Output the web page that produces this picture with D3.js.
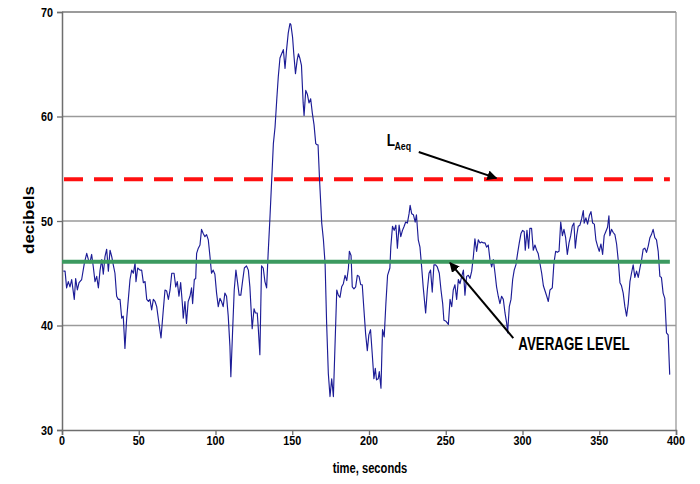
<!DOCTYPE html>
<html>
<head>
<meta charset="utf-8">
<script src="https://cdn.jsdelivr.net/npm/d3@7/dist/d3.min.js"></script>
<style>
  html, body { margin: 0; padding: 0; background: #fff; }
  svg { display: block; }
  text { font-family: "Liberation Sans", Arial, sans-serif; font-weight: bold; fill: #000; }
</style>
</head>
<body>
<svg id="chart" width="700" height="484"></svg>
<script>
// ---- data ----
const xTicks = [0, 50, 100, 150, 200, 250, 300, 350, 400];
const yTicks = [30, 40, 50, 60, 70];
const laeqLevel = 54;
const averageLevel = 46.1;
const refLineExtent = [0, 396];

const times = [
0.9,2.0,3.0,4.1,5.2,6.3,8.0,8.9,10.0,11.1,12.8,14.6,16.1,17.2,18.2,19.3,20.4,21.5,22.6,23.7,24.8,25.9,26.9,28.0,29.1,30.2,31.3,32.4,33.4,34.5,35.6,36.7,37.8,38.9,39.9,41.0,42.1,43.2,44.3,45.4,46.5,47.6,48.2,49.3,50.8,51.9,53.0,54.1,55.2,56.3,57.3,58.4,59.5,60.6,61.7,62.8,64.5,66.0,67.1,68.2,69.3,70.4,71.5,73.0,74.1,75.1,76.2,77.3,78.4,79.0,80.1,
81.1,82.2,83.4,84.4,85.1,86.2,87.1,87.7,88.8,89.9,90.9,92.0,93.1,94.2,95.3,96.4,97.4,98.5,99.6,100.7,101.8,102.9,103.9,105.0,106.1,107.2,108.3,109.4,110.0,111.1,112.2,113.3,114.3,115.4,116.5,117.6,118.8,120.2,121.4,122.4,123.1,123.9,125.1,126.0,127.2,127.8,128.9,130.0,131.1,132.2,133.3,134.3,135.4,
137.7,138.8,139.9,140.9,142.0,143.1,144.2,145.3,146.3,147.4,148.5,149.1,150.2,151.0,152.1,153.2,154.0,154.9,156.0,157.1,157.7,158.8,159.9,160.9,162.0,163.1,164.2,165.3,166.1,166.8,167.8,
169.2,170.3,171.4,172.4,173.5,174.6,175.7,176.8,177.9,179.0,180.0,181.1,182.2,183.3,184.4,185.5,186.6,187.2,188.3,189.1,190.2,191.3,192.4,193.5,194.6,195.6,196.7,197.8,198.9,199.9,201.0,202.1,203.2,204.1,204.9,206.0,206.7,207.8,208.8,209.9,211.0,212.1,213.6,214.2,215.3,216.4,217.5,218.5,219.6,220.7,221.8,222.9,223.9,225.0,226.1,226.8,227.8,228.9,230.1,230.9,232.1,233.2,
234.3,235.3,236.9,238.0,239.1,240.1,241.2,242.3,243.4,244.5,245.8,246.9,248.0,248.8,250.2,251.7,252.8,253.9,254.9,256.0,257.1,258.2,259.3,260.4,261.5,262.5,263.6,264.7,265.8,266.9,268.0,269.0,270.1,271.2,272.3,273.4,274.5,275.6,276.6,277.7,278.8,279.9,281.0,282.1,283.1,284.2,285.3,286.4,287.5,288.6,289.7,290.3,291.4,292.5,293.6,294.6,295.7,296.8,297.9,299.0,300.0,301.1,301.8,302.9,304.0,304.8,305.9,307.0,308.1,309.2,310.2,
312.5,313.6,314.7,315.8,316.8,317.9,319.4,320.5,321.6,322.7,323.8,324.9,326.0,327.0,328.1,329.2,330.3,331.4,332.4,333.5,334.4,335.3,336.3,337.4,338.5,339.6,340.2,341.3,342.4,343.5,344.6,345.7,346.8,347.8,348.9,350.0,351.1,352.2,353.2,354.3,355.4,356.3,356.9,358.0,359.1,360.2,361.3,362.4,363.5,364.5,365.6,366.7,367.8,368.9,370.0,371.0,372.1,373.2,374.3,375.4,376.5,377.5,378.6,379.7,380.8,381.9,383.0,384.0,385.1,386.2,387.3,388.4,389.5,390.5,391.6,392.7,393.8,394.9,395.9
];
const levels = [
45.2,45.2,43.6,44.2,43.7,44.4,42.5,44.5,43.4,44.1,44.4,46.0,46.9,46.3,46.0,46.8,45.6,44.2,44.7,43.6,45.3,46.3,44.9,46.6,47.3,45.2,47.2,46.6,45.8,45.0,42.8,42.5,42.5,40.7,40.9,37.8,40.6,42.5,44.4,45.3,45.0,46.0,44.2,45.5,45.3,45.3,44.1,44.2,42.5,42.3,42.5,41.5,42.5,42.3,41.8,40.6,38.8,41.5,43.4,43.3,42.5,43.4,45.0,45.0,43.7,44.2,42.8,44.1,42.1,40.7,42.3,
40.2,42.3,42.8,43.6,42.1,44.4,44.5,46.9,47.4,47.7,49.2,48.8,48.5,48.7,48.2,46.6,45.0,45.3,44.9,43.1,41.8,42.6,42.3,41.8,43.1,42.8,40.9,38.0,35.1,39.3,43.4,45.3,44.2,42.9,42.9,44.2,45.5,45.7,45.3,43.7,41.8,39.7,41.6,41.2,41.2,39.9,37.2,45.7,45.5,44.2,43.6,46.9,50.1,
57.4,59.0,61.6,63.8,65.6,66.0,66.4,64.6,66.4,68.0,68.9,68.8,67.6,66.0,64.1,65.4,66.0,65.6,64.9,61.3,60.1,62.5,62.1,61.3,61.7,60.3,59.2,57.4,57.3,57.3,53.9,
49.8,48.2,45.9,40.2,35.4,33.2,34.9,33.2,38.3,43.4,42.9,42.7,43.7,44.0,44.8,44.3,45.5,47.1,46.7,43.7,43.5,43.7,44.8,44.7,43.9,43.9,41.5,39.2,37.6,39.1,39.6,37.3,34.9,35.9,34.8,34.9,35.6,34.0,39.6,38.9,42.1,44.8,45.5,47.5,49.5,49.1,49.6,47.4,49.6,48.5,49.1,49.5,49.9,49.8,50.7,51.5,50.7,50.6,49.9,50.6,48.2,47.5,
45.6,43.7,41.2,43.4,45.0,45.3,43.2,45.8,45.8,45.6,45.0,43.4,42.1,40.5,40.4,40.1,42.5,41.8,43.4,43.9,42.5,44.4,44.0,44.7,45.3,42.9,44.7,44.8,44.5,45.2,46.6,48.3,47.1,48.2,47.9,48.0,47.9,47.9,47.5,47.7,46.3,45.6,46.3,45.0,43.7,42.8,42.1,42.8,42.5,41.2,40.2,39.3,41.8,42.5,44.4,45.3,45.8,46.9,47.9,48.8,49.1,49.0,47.2,49.1,47.4,49.3,49.3,47.2,47.7,47.2,46.9,
45.0,43.8,43.3,42.8,42.3,43.4,43.6,46.0,47.1,47.0,47.1,49.9,48.6,49.2,48.4,46.8,47.9,48.6,49.5,49.8,47.4,48.6,49.5,49.6,50.2,51.0,49.8,50.3,49.7,50.5,50.9,49.8,49.7,48.2,47.6,47.1,47.8,46.8,48.6,49.0,49.4,50.5,48.6,49.2,48.9,48.7,47.8,46.2,44.1,43.8,43.1,41.8,40.9,42.1,44.2,45.0,45.8,44.6,45.2,44.6,45.5,46.2,47.3,47.4,47.0,47.6,48.4,48.7,49.2,48.4,48.2,47.1,44.7,44.6,43.1,42.6,39.3,39.1,35.3
];

// annotation anchor points in data units
const laeqLabel = { text: "L", sub: "Aeq", t: 211.5, v: 57.2 };
const laeqArrow = { from: [232.4, 56.6], to: [283.0, 54.1] };
const avgLabel = { text: "AVERAGE LEVEL", t: 297.3, v: 37.65 };
const avgArrow = { from: [294.0, 38.8], to: [252.8, 46.0] };

// ---- drawing ----
const svg = d3.select("#chart");
const plotLeft = 62, plotRight = 676, plotTop = 12, plotBottom = 430;
const x = d3.scaleLinear().domain([0, 400]).range([plotLeft, plotRight]);
const y = d3.scaleLinear().domain([30, 70]).range([plotBottom, plotTop]);
const SX = 0.8; // horizontal squeeze of the original artwork

function squeezedText(g, tx, ty, str, size, anchor, sx) {
  return g.append("text")
    .attr("transform", `translate(${tx},${ty}) scale(${sx},1)`)
    .attr("text-anchor", anchor)
    .style("font-size", size + "px")
    .text(str);
}

const defs = svg.append("defs");
defs.append("marker").attr("id", "ah").attr("viewBox", "0 0 10 10")
  .attr("refX", 9).attr("refY", 5).attr("markerWidth", 5).attr("markerHeight", 5)
  .attr("markerUnits", "strokeWidth").attr("orient", "auto")
  .append("path").attr("d", "M0,0 L10,5 L0,10 z").attr("fill", "#000");

// gridlines
svg.append("g").selectAll("line").data(yTicks.filter(d => d > 30 && d < 70)).join("line")
  .attr("x1", plotLeft).attr("x2", plotRight).attr("y1", d => y(d)).attr("y2", d => y(d))
  .attr("stroke", "#9a9a9a").attr("stroke-width", 1.3);

// frame: top and right
svg.append("line").attr("x1", plotLeft).attr("x2", plotRight).attr("y1", plotTop).attr("y2", plotTop)
  .attr("stroke", "#7a7a7a").attr("stroke-width", 1.4);
svg.append("line").attr("x1", plotRight).attr("x2", plotRight).attr("y1", plotTop).attr("y2", plotBottom)
  .attr("stroke", "#9a9a9a").attr("stroke-width", 1.3);

// axes
const xAxis = svg.append("g").attr("transform", `translate(0,${plotBottom})`)
  .call(d3.axisBottom(x).tickValues(xTicks).tickSize(5).tickFormat(""));
const yAxis = svg.append("g").attr("transform", `translate(${plotLeft},0)`)
  .call(d3.axisLeft(y).tickValues(yTicks).tickSize(5).tickFormat(""));
[xAxis, yAxis].forEach(a => {
  a.select(".domain").attr("stroke", "#6e6e6e").attr("stroke-width", 1.5);
  a.selectAll(".tick line").attr("stroke", "#6e6e6e").attr("stroke-width", 1.3);
});

// tick labels
const tl = svg.append("g");
xTicks.forEach(t => squeezedText(tl, x(t), 445, String(t), 13, "middle", 0.83));
yTicks.forEach(v => squeezedText(tl, 53, y(v) + 4.6, String(v), 13, "end", 0.83));

// axis titles
squeezedText(svg, 370, 473, "time, seconds", 14, "middle", SX);
svg.append("text")
  .attr("transform", `translate(34,220) scale(0.85,1) rotate(-90)`)
  .attr("text-anchor", "middle").style("font-size", "17px").text("decibels");

// reference lines
svg.append("line")
  .attr("x1", x(refLineExtent[0])).attr("x2", x(refLineExtent[1]))
  .attr("y1", y(laeqLevel)).attr("y2", y(laeqLevel))
  .attr("stroke", "#ff1010").attr("stroke-width", 4)
  .attr("stroke-dasharray", "19 11").attr("stroke-dashoffset", 28);

// measured level trace
const series = times.map((t, i) => [t, levels[i]]);
svg.append("path").datum(series)
  .attr("d", d3.line().x(d => x(d[0])).y(d => y(d[1])))
  .attr("fill", "none").attr("stroke", "#1c1c96").attr("stroke-width", 1.15)
  .attr("stroke-linejoin", "round");

svg.append("line")
  .attr("x1", x(refLineExtent[0])).attr("x2", x(refLineExtent[1]))
  .attr("y1", y(averageLevel)).attr("y2", y(averageLevel))
  .attr("stroke", "#3c9a60").attr("stroke-width", 4);

// annotations
const lg = svg.append("g");
squeezedText(lg, x(laeqLabel.t), y(laeqLabel.v), laeqLabel.text, 17, "start", SX);
squeezedText(lg, x(laeqLabel.t) + 7.8, y(laeqLabel.v) + 4, laeqLabel.sub, 11, "start", SX);
svg.append("line")
  .attr("x1", x(laeqArrow.from[0])).attr("y1", y(laeqArrow.from[1]))
  .attr("x2", x(laeqArrow.to[0])).attr("y2", y(laeqArrow.to[1]))
  .attr("stroke", "#000").attr("stroke-width", 2).attr("marker-end", "url(#ah)");

squeezedText(svg, x(avgLabel.t), y(avgLabel.v), avgLabel.text, 17.5, "start", 0.76);
svg.append("line")
  .attr("x1", x(avgArrow.from[0])).attr("y1", y(avgArrow.from[1]))
  .attr("x2", x(avgArrow.to[0])).attr("y2", y(avgArrow.to[1]))
  .attr("stroke", "#000").attr("stroke-width", 2).attr("marker-end", "url(#ah)");
</script>
</body>
</html>
